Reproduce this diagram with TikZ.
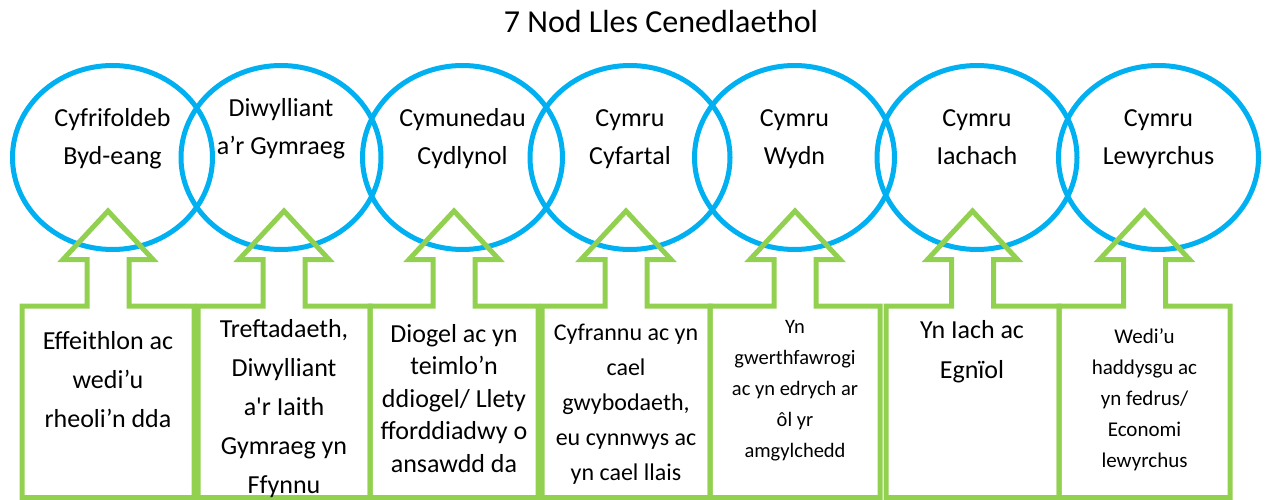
\documentclass[tikz,border=0pt]{standalone}
\usepackage{fontspec}
\setmainfont{Carlito}
\usepackage{tikz}
\usetikzlibrary{shapes.geometric}

\definecolor{nodblue}{HTML}{00B0F0}
\definecolor{nodgreen}{HTML}{92D050}

\tikzset{
  nod/.style = {ellipse, draw=nodblue, line width=5pt, minimum width=200pt, minimum height=184pt, inner sep=0pt},
  nodtext/.style = {align=center, anchor=base, inner sep=0pt, font=\fontsize{26}{39}\selectfont},
  callout/.style = {draw=nodgreen, line width=5pt, line join=miter},
  boxtext/.style = {align=center, anchor=base, inner sep=0pt},
}

\begin{document}
\begin{tikzpicture}[x=1pt, y=-1pt]
\useasboundingbox (0,0) rectangle (1267,500);
\node[anchor=base, font=\fontsize{32}{38}\selectfont] (title) at (661,33) {7 Nod Lles Cenedlaethol};
\foreach \x/\y/\txt [count=\i] in {112.5/165/{Cyfrifoldeb\\Byd-eang}, 281/155/{Diwylliant\\a’r Gymraeg},
    462.5/165/{Cymunedau\\Cydlynol}, 630/165/{Cymru\\Cyfartal}, 794.5/165/{Cymru\\Wydn},
    977/165/{Cymru\\Iachach}, 1158.5/165/{Cymru\\Lewyrchus}} {
  \node[nod] (nod\i) at (\x,157.5) {};
  \node[nodtext] (nodtext\i) at (\x,\y) {\txt};
}
\foreach \l/\r [count=\i] in {22/194, 198/370, 370/538, 542/710, 710/880, 886/1059, 1059/1230} {
  \pgfmathsetmacro\c{(\l+\r)/2}
  \coordinate (tip\i) at (\c,211);
  \draw[callout] (\l,497.5) -- (\l,306) -- (\c-21,306) -- (\c-21,259.5) -- (\c-45,259.5) -- (tip\i)
    -- (\c+45,259.5) -- (\c+21,259.5) -- (\c+21,306) -- (\r,306) -- (\r,497.5) -- cycle;
}
\node[boxtext, font=\fontsize{26}{39}\selectfont] (bocs1) at (108,427) {Effeithlon ac\\wedi’u\\rheoli’n dda};
\node[boxtext, font=\fontsize{26}{39}\selectfont] (bocs2) at (284,493) {Treftadaeth,\\Diwylliant\\a\textquotesingle r Iaith\\Gymraeg yn\\Ffynnu};
\node[boxtext, font=\fontsize{26}{32.5}\selectfont] (bocs3) at (454,472) {Diogel ac yn\\teimlo’n\\ddiogel/ Llety\\fforddiadwy o\\ansawdd da};
\node[boxtext, font=\fontsize{24}{35}\selectfont] (bocs4) at (626,480) {Cyfrannu ac yn\\cael\\gwybodaeth,\\eu cynnwys ac\\yn cael llais};
\node[boxtext, font=\fontsize{20.5}{31}\selectfont] (bocs5) at (795,457) {Yn\\gwerthfawrogi\\ac yn edrych ar\\ôl yr\\amgylchedd};
\node[boxtext, font=\fontsize{26}{40}\selectfont] (bocs6) at (972,378) {Yn Iach ac\\Egnïol};
\node[boxtext, font=\fontsize{21}{31}\selectfont] (bocs7) at (1144.5,467) {Wedi’u\\haddysgu ac\\yn fedrus/\\Economi\\lewyrchus};
\end{tikzpicture}
\end{document}
